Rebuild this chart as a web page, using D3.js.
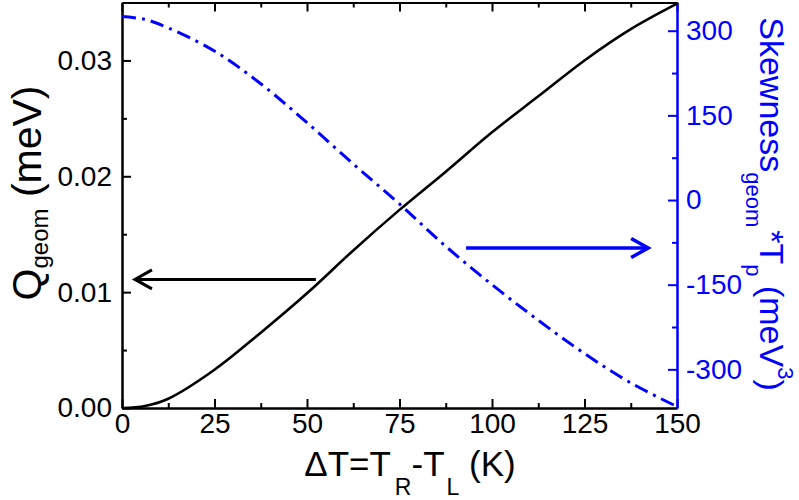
<!DOCTYPE html>
<html>
<head>
<meta charset="utf-8">
<title>Q_geom and skewness vs delta T</title>
<script src="https://d3js.org/d3.v7.min.js"></script>
<style>
  html, body { margin: 0; padding: 0; background: #fff; }
  svg { display: block; font-family: "Liberation Sans", Arial, sans-serif; }
</style>
</head>
<body>
<script>
// data
const deltaT = [0, 6.25, 12.5, 25, 37.5, 50, 62.5, 75, 87.5, 100, 112.5, 125, 137.5, 150];
const qGeom  = [0, 0.00018, 0.0008, 0.0033, 0.0065, 0.0099, 0.0136, 0.0171, 0.0204, 0.0238, 0.0269, 0.0300, 0.0327, 0.0349];
const skewTp = [325, 320, 305, 264, 206, 137, 64, -7, -82, -150, -213, -272, -324, -366];

const xTicks = [0, 25, 50, 75, 100, 125, 150];
const xMinor = [12.5, 37.5, 62.5, 87.5, 112.5, 137.5];
const qTicks = [0, 0.01, 0.02, 0.03];
const qMinor = [0.005, 0.015, 0.025];
const sTicks = [-300, -150, 0, 150, 300];
const sMinor = [-225, -75, 75, 225];

// arrows in data units: [x0, x1, y]
const qArrow = [52.4, 3.5, 0.0111];
const sArrow = [93, 142.2, -85];

const width = 799, height = 500;
const blue = "#0000ff";

const svg = d3.select("body").append("svg")
    .attr("width", width)
    .attr("height", height);

const x = d3.scaleLinear().domain([0, 150]).range([122, 677]);
const yQ = d3.scaleLinear().domain([0, 0.035]).range([408, 2.5]);
const yS = d3.scaleLinear().domain([-368.5, 350]).range([408, 2.5]);

const intFmt = d => String(d); // plain hyphen minus like the original

function styleAxis(g, col) {
  g.select(".domain").attr("stroke", col).attr("stroke-width", 2);
  g.selectAll(".tick line").attr("stroke", col).attr("stroke-width", 2);
  g.selectAll(".tick text").attr("fill", col).attr("font-size", 28)
    .attr("font-family", "Liberation Sans, Arial, sans-serif");
}

// bottom
const gb = svg.append("g").attr("transform", "translate(0,408)")
  .call(d3.axisBottom(x).tickValues(xTicks).tickSize(-9).tickSizeOuter(0).tickPadding(5).tickFormat(intFmt));
styleAxis(gb, "#000");
const gbm = svg.append("g").attr("transform", "translate(0,408)")
  .call(d3.axisBottom(x).tickValues(xMinor).tickSize(-5).tickSizeOuter(0).tickFormat(""));
styleAxis(gbm, "#000");

// top
const gt = svg.append("g").attr("transform", "translate(0,2.5)")
  .call(d3.axisTop(x).tickValues(xTicks).tickSize(-9).tickSizeOuter(0).tickFormat(""));
styleAxis(gt, "#000");
const gtm = svg.append("g").attr("transform", "translate(0,2.5)")
  .call(d3.axisTop(x).tickValues(xMinor).tickSize(-5).tickSizeOuter(0).tickFormat(""));
styleAxis(gtm, "#000");

// left
const gl = svg.append("g").attr("transform", "translate(122,0)")
  .call(d3.axisLeft(yQ).tickValues(qTicks).tickSize(-9).tickSizeOuter(0).tickPadding(10).tickFormat(d3.format(".2f")));
styleAxis(gl, "#000");
const glm = svg.append("g").attr("transform", "translate(122,0)")
  .call(d3.axisLeft(yQ).tickValues(qMinor).tickSize(-5).tickSizeOuter(0).tickFormat(""));
styleAxis(glm, "#000");

// right
const gr = svg.append("g").attr("transform", "translate(677,0)")
  .call(d3.axisRight(yS).tickValues(sTicks).tickSize(-9).tickSizeOuter(0).tickPadding(9).tickFormat(intFmt));
styleAxis(gr, blue);
const grm = svg.append("g").attr("transform", "translate(677,0)")
  .call(d3.axisRight(yS).tickValues(sMinor).tickSize(-5).tickSizeOuter(0).tickFormat(""));
styleAxis(grm, blue);

// curves
const qLine = d3.line()
  .x((d, i) => x(deltaT[i]))
  .y(d => yQ(d))
  .curve(d3.curveCatmullRom.alpha(0.5));
svg.append("path")
  .attr("d", qLine(qGeom))
  .attr("fill", "none")
  .attr("stroke", "#000")
  .attr("stroke-width", 2.6);

const sLine = d3.line()
  .x((d, i) => x(deltaT[i]))
  .y(d => yS(d))
  .curve(d3.curveCatmullRom.alpha(0.5));
svg.append("path")
  .attr("d", sLine(skewTp))
  .attr("fill", "none")
  .attr("stroke", blue)
  .attr("stroke-width", 3)
  .attr("stroke-dasharray", "14,6,3,6");

// arrows
function arrow(x0, x1, yy, col, w) {
  const dir = x1 > x0 ? 1 : -1;
  svg.append("line")
    .attr("x1", x0).attr("x2", x1).attr("y1", yy).attr("y2", yy)
    .attr("stroke", col).attr("stroke-width", w);
  svg.append("path")
    .attr("d", `M${x1 - dir * 17},${yy - 9.5}L${x1},${yy}L${x1 - dir * 17},${yy + 9.5}`)
    .attr("fill", "none").attr("stroke", col).attr("stroke-width", w)
    .attr("stroke-linejoin", "miter");
}
arrow(x(qArrow[0]), x(qArrow[1]), yQ(qArrow[2]), "#000", 3);
arrow(x(sArrow[0]), x(sArrow[1]), yS(sArrow[2]), blue, 3.6);

// axis titles
const xt = svg.append("text")
  .attr("x", 410).attr("y", 476)
  .attr("text-anchor", "middle")
  .attr("font-size", 35);
xt.append("tspan").text("\u0394T=T");
xt.append("tspan").attr("font-size", 23).attr("dy", 19).attr("dx", 4).text("R");
xt.append("tspan").attr("dy", -19).text("-T");
xt.append("tspan").attr("font-size", 23).attr("dy", 19).attr("dx", 2).text("L");
xt.append("tspan").attr("dy", -19).text(" (K)");

const lt = svg.append("text")
  .attr("transform", "translate(41,193) rotate(-90)")
  .attr("text-anchor", "middle")
  .attr("font-size", 41);
lt.append("tspan").text("Q");
lt.append("tspan").attr("font-size", 24).attr("dy", 7).text("geom");
lt.append("tspan").attr("dy", -7).text(" (meV)");

const rt = svg.append("text")
  .attr("transform", "translate(760,204) rotate(90)")
  .attr("text-anchor", "middle")
  .attr("font-size", 34)
  .attr("fill", blue);
rt.append("tspan").text("Skewness");
rt.append("tspan").attr("font-size", 22).attr("dy", 14).text("geom");
rt.append("tspan").attr("dy", -14).attr("dx", 3).text("*T");
rt.append("tspan").attr("font-size", 22).attr("dy", 14).text("p");
rt.append("tspan").attr("dy", -14).text(" (meV");
rt.append("tspan").attr("font-size", 22).attr("dy", -18).text("3");
rt.append("tspan").attr("dy", 18).text(")");
</script>
</body>
</html>
